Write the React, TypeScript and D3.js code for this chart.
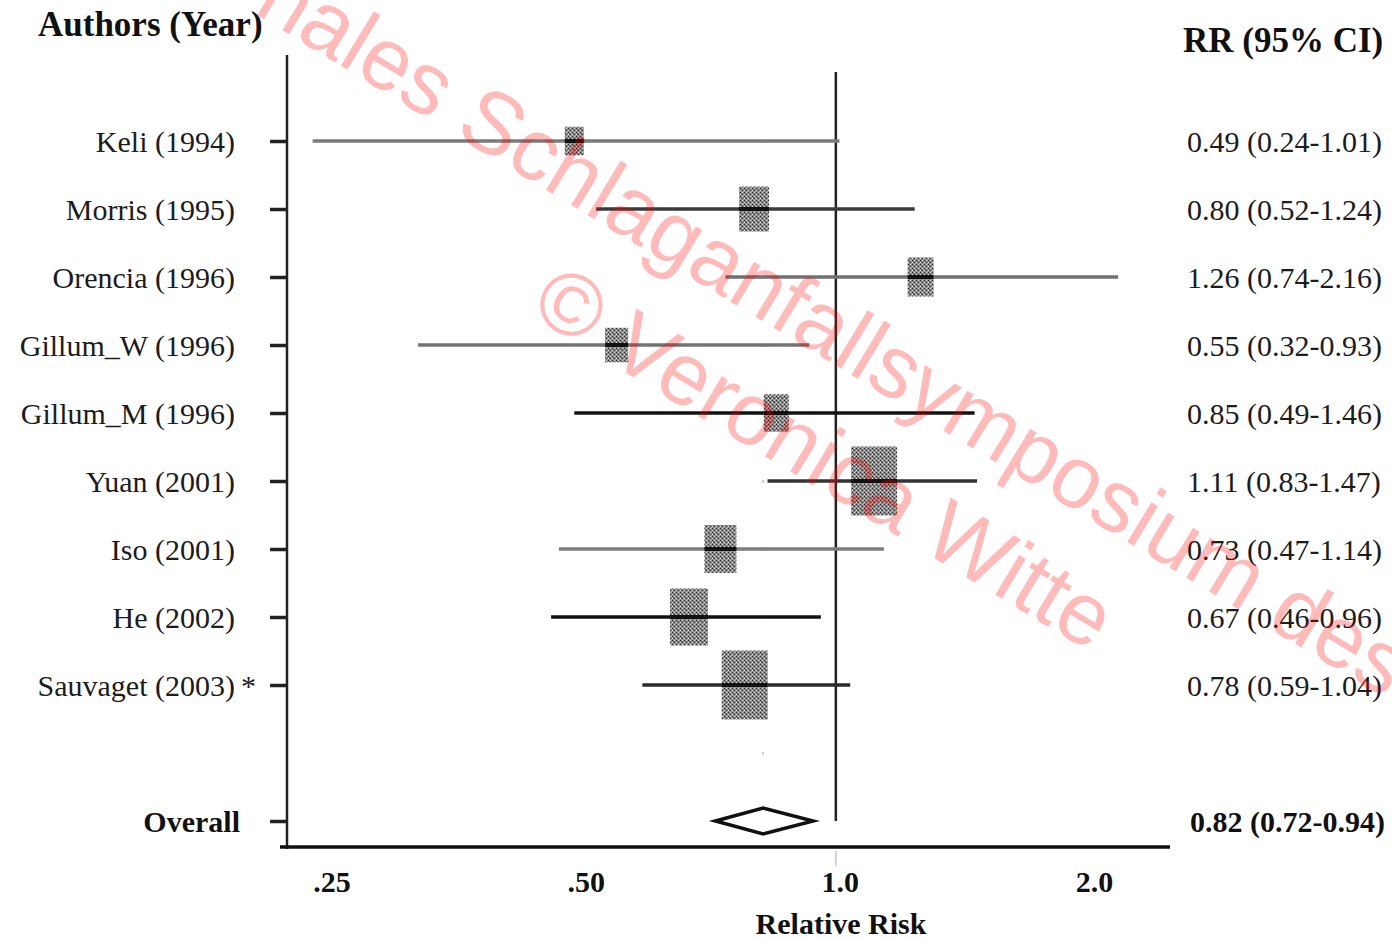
import { useEffect, useRef } from 'react';
import * as d3 from 'd3';

const studies = ['Keli (1994)', 'Morris (1995)', 'Orencia (1996)', 'Gillum_W (1996)', 'Gillum_M (1996)', 'Yuan (2001)', 'Iso (2001)', 'He (2002)', 'Sauvaget (2003)'];
const notes = ['', '', '', '', '', '', '', '', '*'];
const rr = [0.49, 0.8, 1.26, 0.55, 0.85, 1.11, 0.73, 0.67, 0.78];
const lower = [0.24, 0.52, 0.74, 0.32, 0.49, 0.83, 0.47, 0.46, 0.59];
const upper = [1.01, 1.24, 2.16, 0.93, 1.46, 1.47, 1.14, 0.96, 1.04];
const weights = [3.7, 9.2, 6.9, 5.4, 6.4, 21.6, 10.4, 14.7, 21.6];
const overall = [0.82, 0.72, 0.94]; // estimate, lower, upper
const tickValues = [0.25, 0.5, 1, 2];
const tickLabels = ['.25', '.50', '1.0', '2.0'];

// line shades as they come out in the scan
const ciColors = ['#7a7a7a', '#3a3a3a', '#707070', '#727272', '#111', '#333', '#7c7c7c', '#111', '#2a2a2a'];

const W = 1392;
const H = 939;
const serif = '"Liberation Serif", "Times New Roman", serif';
const sans = '"Liberation Sans", Arial, sans-serif';

const App = () => {
  const axisRef = useRef<SVGGElement>(null);
  const leftRef = useRef<SVGGElement>(null);

  useEffect(() => {
    document.body.style.margin = '0';
  }, []);

  const x = d3.scaleLog().base(2).domain([0.2238, 2.488]).range([287, 1170]);
  // 9 studies, one empty slot, then the overall row
  const y = d3.scalePoint<number>().domain(d3.range(11)).range([141, 821]);
  const size = d3.scaleSqrt().domain([0, d3.max(weights)!]).range([0, 46]);
  const f = d3.format('.2f');
  const rowY = (i: number) => y(i)!;
  const overallY = rowY(10);

  useEffect(() => {
    const g = d3.select(axisRef.current);
    g.selectAll('*').remove();
    g.call(
      d3.axisBottom(x)
        .tickValues(tickValues)
        .tickFormat((_, i) => tickLabels[i])
        .tickSize(0)
        .tickPadding(24)
    );
    g.select('.domain').remove();
    g.selectAll('text')
      .attr('font-family', serif)
      .attr('font-size', 30)
      .attr('font-weight', 'bold')
      .attr('fill', '#111')
      .attr('dx', 4);

    const l = d3.select(leftRef.current);
    l.selectAll('*').remove();
    l.call(
      d3.axisLeft(y)
        .tickValues([...d3.range(studies.length), 10])
        .tickFormat(() => '')
        .tickSize(17)
    );
    l.select('.domain').remove();
    l.selectAll('line').attr('stroke', '#222').attr('stroke-width', 3.5);
  }, []);

  return (
    <svg width={W} height={H} style={{ display: 'block', background: '#fff' }}>
      <defs>
        <pattern id="dither" width="4" height="4" patternUnits="userSpaceOnUse">
          <rect width="4" height="4" fill="#8a8a8a" />
          <rect x="0" y="0" width="1" height="1" fill="#2e2e2e" />
          <rect x="2" y="2" width="1" height="1" fill="#2e2e2e" />
          <rect x="2" y="0" width="1" height="1" fill="#d6d6d6" />
          <rect x="0" y="2" width="1" height="1" fill="#d6d6d6" />
          <rect x="1" y="1" width="1" height="1" fill="#5a5a5a" />
          <rect x="3" y="3" width="1" height="1" fill="#b0b0b0" />
        </pattern>
      </defs>

      {/* headers */}
      <text x={38} y={36} fontFamily={serif} fontSize={35} fontWeight="bold" fill="#111">Authors (Year)</text>
      <text x={1183} y={52} fontFamily={serif} fontSize={35} fontWeight="bold" fill="#111">RR (95% CI)</text>

      {/* axes */}
      <line x1={287} x2={287} y1={55} y2={849} stroke="#222" strokeWidth={2.5} />
      <line x1={280} x2={1170} y1={847} y2={847} stroke="#111" strokeWidth={3.5} />
      <line x1={x(1)} x2={x(1)} y1={851} y2={866} stroke="#d2d2d2" strokeWidth={2} />
      <g ref={leftRef} transform="translate(287,0)" />
      <g ref={axisRef} transform="translate(0,847)" />
      <text x={841} y={934} textAnchor="middle" fontFamily={serif} fontSize={30} fontWeight="bold" fill="#111">Relative Risk</text>

      {/* null line and faint overall marker */}
      <line x1={x(1)} x2={x(1)} y1={72} y2={overallY} stroke="#222" strokeWidth={2.5} />
      <line x1={x(overall[0])} x2={x(overall[0])} y1={140} y2={770} stroke="#cfcfcf" strokeWidth={2} strokeDasharray="3 65" />

      {/* studies */}
      {studies.map((s, i) => {
        const cy = rowY(i);
        const w = size(weights[i]);
        const h = w * 1.5;
        const cx = x(rr[i]);
        return (
          <g key={s}>
            <line x1={x(lower[i])} x2={x(upper[i])} y1={cy} y2={cy} stroke={ciColors[i]} strokeWidth={3.5} />
            <rect x={cx - w / 2} y={cy - h / 2} width={w} height={h} fill="url(#dither)" />
            <line x1={cx - w / 2} x2={cx + w / 2} y1={cy} y2={cy} stroke="#111" strokeWidth={4} />
            <text x={235} y={cy} dy="0.35em" textAnchor="end" fontFamily={serif} fontSize={30} fill="#1c1c1c">{s}</text>
            {notes[i] && (
              <text x={241} y={cy} dy="0.35em" fontFamily={serif} fontSize={30} fill="#1c1c1c">{notes[i]}</text>
            )}
            <text x={1187} y={cy} dy="0.35em" fontFamily={serif} fontSize={30} fill="#1c1c1c">
              {`${f(rr[i])} (${f(lower[i])}-${f(upper[i])})`}
            </text>
          </g>
        );
      })}

      {/* overall */}
      <path
        d={`M${x(overall[1])},${overallY} L${x(overall[0])},${overallY - 13} L${x(overall[2])},${overallY} L${x(overall[0])},${overallY + 13} Z`}
        fill="#fff"
        stroke="#111"
        strokeWidth={3.5}
      />
      <text x={240} y={overallY} dy="0.35em" textAnchor="end" fontFamily={serif} fontSize={30} fontWeight="bold" fill="#111">Overall</text>
      <text x={1190} y={overallY} dy="0.35em" fontFamily={serif} fontSize={30} fontWeight="bold" fill="#111">
        {`${f(overall[0])} (${f(overall[1])}-${f(overall[2])})`}
      </text>

      {/* watermark */}
      <g fontFamily={sans} fontSize={88} fill="rgb(255,0,0)" fillOpacity={0.27}>
        <text transform="translate(252,12) rotate(31.2)">nales Schlaganfallsymposium des</text>
        <text transform="translate(528,314) rotate(31)">© Veronica Witte</text>
      </g>
    </svg>
  );
};

export default App;
